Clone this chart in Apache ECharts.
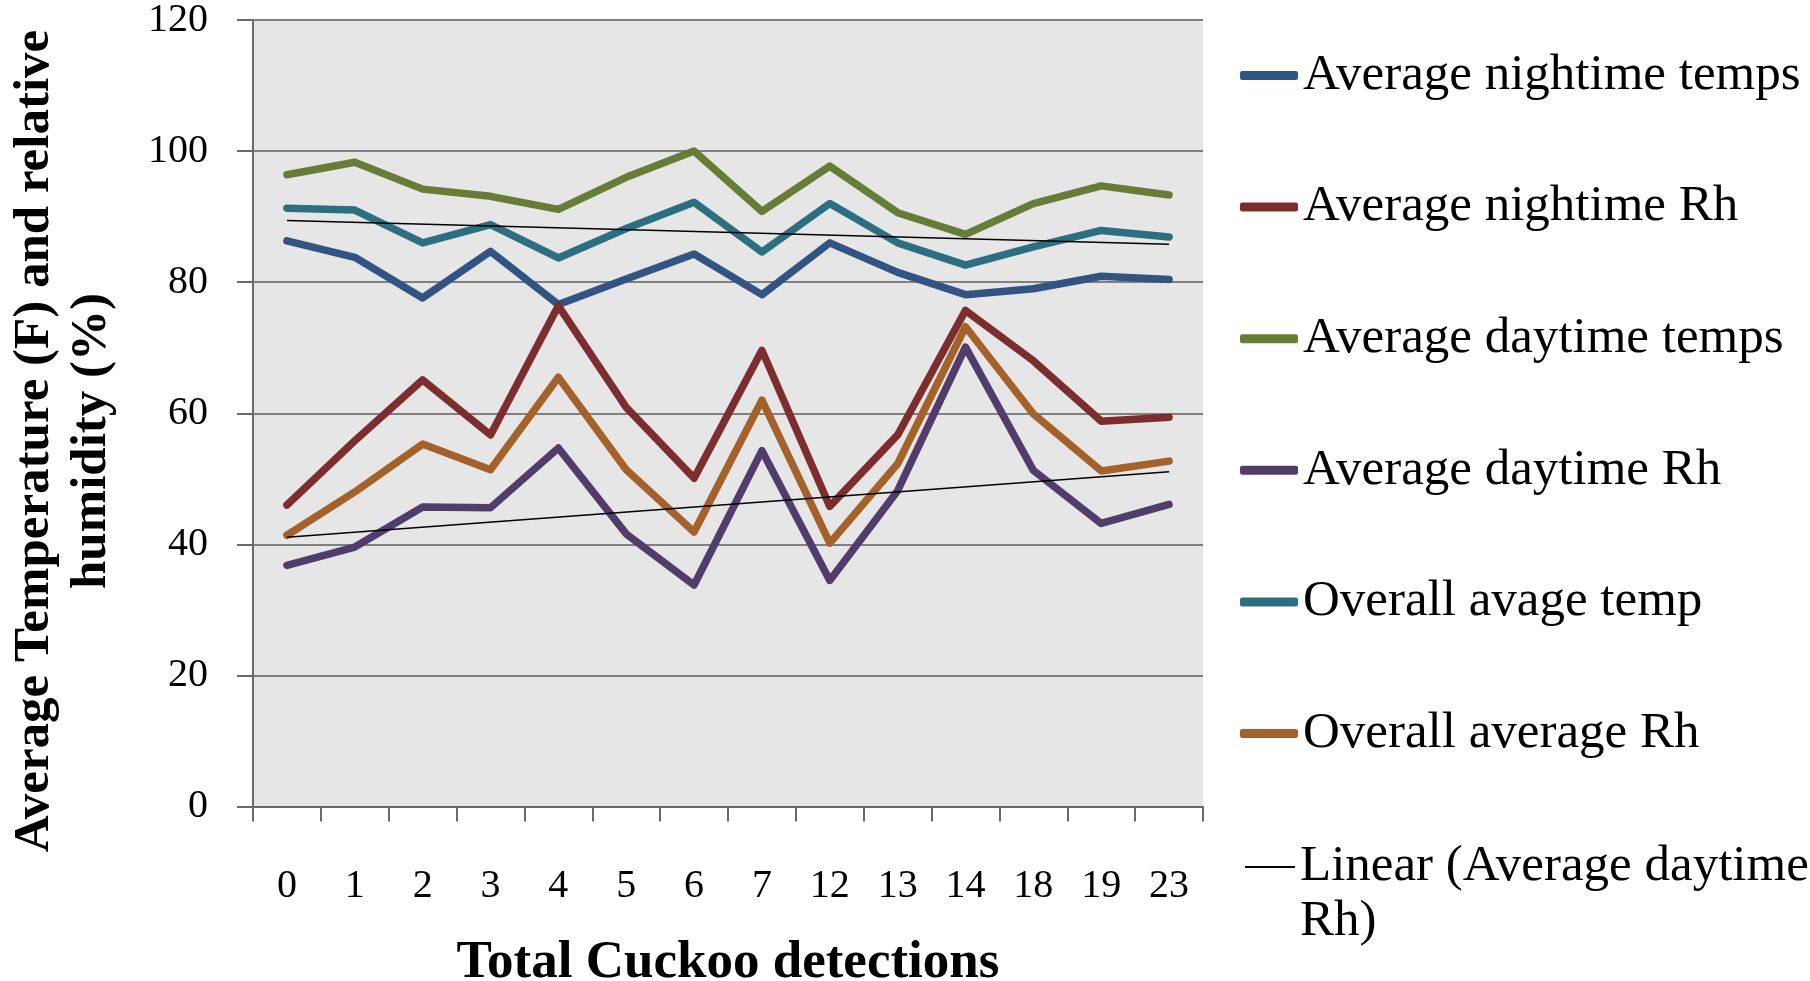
<!DOCTYPE html>
<html>
<head>
<meta charset="utf-8">
<script src="https://cdn.jsdelivr.net/npm/echarts@6/dist/echarts.min.js"></script>
<style>
html,body{margin:0;padding:0;background:#fff;}
#chart{width:1810px;height:981px;}
</style>
</head>
<body>
<div id="chart"></div>
<script>
var categories = ['0','1','2','3','4','5','6','7','12','13','14','18','19','23'];
var yTicks = [0, 20, 40, 60, 80, 100, 120];

var nightTemps   = [86.3, 83.8, 77.6, 84.7, 76.6, 80.5, 84.3, 78.1, 86.0, 81.5, 78.1, 79.0, 80.9, 80.4];
var nightRh      = [46.0, 55.8, 65.1, 56.7, 76.4, 60.9, 50.1, 69.6, 45.8, 56.7, 75.7, 68.0, 58.8, 59.4];
var dayTemps     = [96.4, 98.3, 94.2, 93.1, 91.1, 96.0, 100.0, 90.8, 97.7, 90.6, 87.3, 92.0, 94.7, 93.3];
var dayRh        = [36.8, 39.6, 45.7, 45.6, 54.7, 41.6, 33.8, 54.3, 34.5, 48.2, 70.1, 51.3, 43.2, 46.1];
var overallTemp  = [91.3, 91.0, 86.0, 88.8, 83.7, 88.2, 92.2, 84.6, 92.0, 86.0, 82.6, 85.4, 87.9, 86.9];
var overallRh    = [41.4, 48.0, 55.3, 51.4, 65.5, 51.4, 41.9, 62.0, 40.2, 52.3, 73.2, 59.9, 51.2, 52.7];
// trend line end points (first and last category)
var trendDayRh   = [41.1, null, null, null, null, null, null, null, null, null, null, null, null, 51.1];
var trendTemp    = [89.4, null, null, null, null, null, null, null, null, null, null, null, null, 85.8];

var names = ['Average nightime temps','Average nightime Rh','Average daytime temps','Average daytime Rh','Overall avage temp','Overall average Rh'];
var colors = ['#325483','#7d2d2e','#677d37','#503d6c','#2c6f80','#a4612a'];
var values = [nightTemps, nightRh, dayTemps, dayRh, overallTemp, overallRh];
var trendName = 'Linear (Average daytime Rh)';

var FONT = '"Liberation Serif", "Times New Roman", serif';

var series = names.map(function(n, i){
  return {
    name: n, type: 'line', data: values[i], symbol: 'none',
    lineStyle: {color: colors[i], width: 7.5, cap: 'round', join: 'round'},
    itemStyle: {color: colors[i]},
    emphasis: {disabled: true}, animation: false
  };
});
series.push({
  name: trendName, type: 'line', data: trendDayRh, connectNulls: true, symbol: 'none',
  lineStyle: {color: '#000', width: 1.5}, itemStyle: {color: '#000'}, z: 5, animation: false
});
series.push({
  name: 'Linear (Overall avage temp)', type: 'line', data: trendTemp, connectNulls: true, symbol: 'none',
  lineStyle: {color: '#000', width: 1.5}, itemStyle: {color: '#000'}, z: 5, animation: false
});

var chart = echarts.init(document.getElementById('chart'), null, {renderer: 'canvas'});
chart.setOption({
  backgroundColor: '#ffffff',
  animation: false,
  grid: {left: 253, top: 19.6, width: 950, height: 787, show: true, backgroundColor: '#e6e6e6', borderWidth: 0, containLabel: false},
  xAxis: {
    type: 'category', data: categories, boundaryGap: true,
    axisLine: {lineStyle: {color: '#6a6a6a', width: 2}},
    axisTick: {show: true, length: 15, interval: 0, lineStyle: {color: '#6a6a6a', width: 2}},
    axisLabel: {interval: 0, margin: 60, color: '#000', fontFamily: FONT, fontSize: 40, lineHeight: 40},
    splitLine: {show: false}
  },
  yAxis: {
    type: 'value', min: yTicks[0], max: yTicks[yTicks.length-1], interval: 20,
    axisLine: {show: true, lineStyle: {color: '#6a6a6a', width: 2}},
    axisTick: {show: true, length: 16, lineStyle: {color: '#6a6a6a', width: 2}},
    axisLabel: {margin: 45, color: '#000', fontFamily: FONT, fontSize: 40},
    splitLine: {show: true, lineStyle: {color: '#808080', width: 2}}
  },
  legend: [{
    orient: 'vertical', left: 1235, top: 43, itemWidth: 58, itemHeight: 9, itemGap: 76.6,
    data: names.map(function(n){ return {name: n, icon: 'roundRect'}; }),
    textStyle: {fontFamily: FONT, fontSize: 51, color: '#000', lineHeight: 55},
    selectedMode: false
  },{
    orient: 'vertical', left: 1240, top: 862 - 82.5, itemWidth: 50, itemHeight: 2, itemGap: 0,
    data: [{name: trendName, icon: 'rect'}],
    formatter: function(){ return '\nLinear (Average daytime\nRh)'; },
    textStyle: {fontFamily: FONT, fontSize: 51, color: '#000', lineHeight: 55},
    selectedMode: false
  }],
  graphic: [{
    type: 'text', x: 63, y: 441, rotation: Math.PI/2,
    style: {text: 'Average Temperature (F) and relative\nhumidity (%)', font: 'bold 51px ' + FONT,
      fill: '#000', align: 'center', verticalAlign: 'middle', lineHeight: 57}
  },{
    type: 'text', x: 728, y: 963,
    style: {text: 'Total Cuckoo detections', font: 'bold 53px ' + FONT,
      fill: '#000', align: 'center', verticalAlign: 'middle'}
  }],
  series: series
});
</script>
</body>
</html>
